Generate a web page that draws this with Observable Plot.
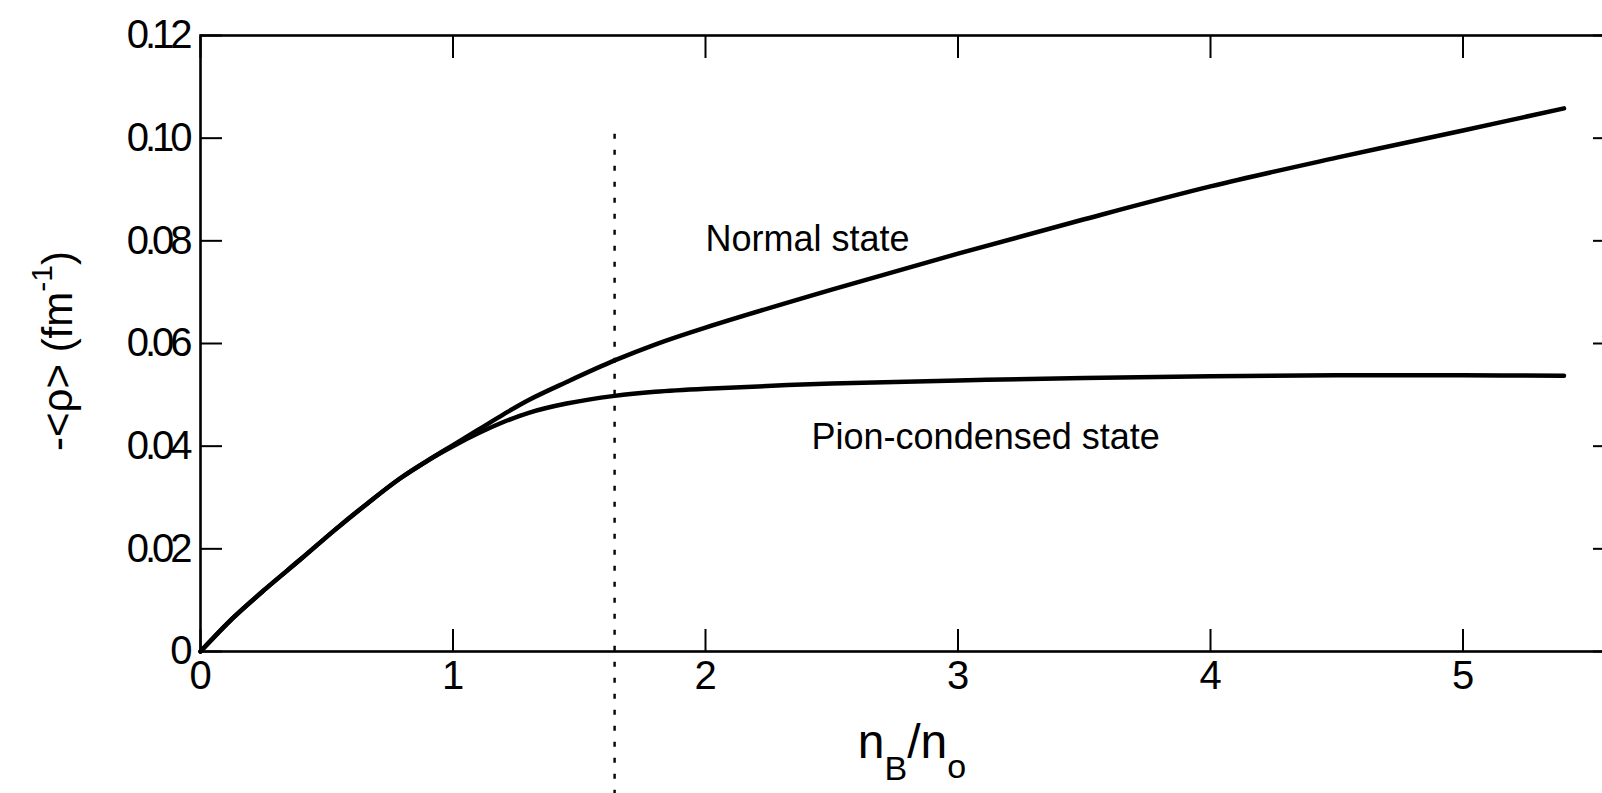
<!DOCTYPE html>
<html>
<head>
<meta charset="utf-8">
<script src="https://cdn.jsdelivr.net/npm/d3@7"></script>
<script src="https://cdn.jsdelivr.net/npm/@observablehq/plot@0.6"></script>
<style>
  html, body { margin: 0; padding: 0; background: #fff; overflow: hidden; }
  #chart svg { display: block; }
</style>
</head>
<body>
<div id="chart"></div>
<script>
// ---- data ----
const normalX = [0, 0.13, 0.26, 0.40, 0.53, 0.66, 0.79, 0.92, 1.00, 1.10, 1.20, 1.30, 1.45, 1.64, 1.80, 2.00, 2.50, 3.00, 3.50, 4.00, 4.50, 5.00, 5.40];
const normalY = [0, 0.0066, 0.0123, 0.0181, 0.0236, 0.0288, 0.0337, 0.0378, 0.0402, 0.0432, 0.0462, 0.0490, 0.0525, 0.0567, 0.0598, 0.0631, 0.0705, 0.0775, 0.0842, 0.0906, 0.0962, 0.1015, 0.1058];

const pionX = [0, 0.13, 0.26, 0.40, 0.53, 0.66, 0.79, 0.92, 1.00, 1.10, 1.20, 1.30, 1.45, 1.64, 1.80, 2.00, 2.50, 3.00, 3.50, 4.00, 4.50, 5.00, 5.40];
const pionY = [0, 0.0066, 0.0123, 0.0181, 0.0236, 0.0288, 0.0337, 0.0378, 0.0400, 0.0425, 0.0447, 0.0465, 0.0483, 0.0498, 0.0506, 0.0512, 0.0522, 0.0528, 0.0533, 0.0536, 0.0538, 0.0538, 0.0537];

const criticalX = [1.64];            // dashed vertical line
const criticalSpan = [-0.028, 0.101];

const xTicks = [0, 1, 2, 3, 4, 5];
const xTickLabels = ["0", "1", "2", "3", "4", "5"];
const yTicks = [0, 0.02, 0.04, 0.06, 0.08, 0.10, 0.12];
const yTickLabels = ["0", "0.02", "0.04", "0.06", "0.08", "0.10", "0.12"];

const annLabels = ["Normal state", "Pion-condensed state"];
const annX = [2.0, 2.42];
const annY = [0.0803, 0.0417];

const FONT = "'Liberation Sans', Arial, Helvetica, sans-serif";

const chart = Plot.plot({
  width: 1602,
  height: 793,
  marginLeft: 200,
  marginTop: 35,
  marginBottom: 142,
  marginRight: -12,
  style: { fontFamily: FONT, fontSize: "40px", color: "#000", background: "#fff", overflow: "hidden" },
  x: { domain: [0, 5.6] },
  y: { domain: [0, 0.12] },
  marks: [
    Plot.frame({ stroke: "#000", strokeWidth: 2.6 }),
    // inward ticks on all four sides
    Plot.axisX({ anchor: "bottom", ticks: xTicks, tickSize: -22, tickPadding: 31, strokeWidth: 2,
                 tickFormat: d => xTickLabels[xTicks.indexOf(d)], label: null, fontSize: 40 }),
    Plot.axisX({ anchor: "top", ticks: xTicks, tickSize: -22, strokeWidth: 2, fill: "none", label: null }),
    Plot.axisY({ anchor: "left", ticks: yTicks, tickSize: -22, tickPadding: 34, strokeWidth: 2,
                 tickFormat: d => yTickLabels[yTicks.findIndex(t => Math.abs(t - d) < 1e-9)], label: null,
                 fontSize: 40 }),
    Plot.axisY({ anchor: "right", ticks: yTicks, tickSize: -22, strokeWidth: 2, fill: "none", label: null }),
    Plot.ruleX(criticalX, { y1: criticalSpan[0], y2: criticalSpan[1], stroke: "#000", strokeWidth: 2.4, strokeDasharray: "5,11" }),
    Plot.line(normalX, { x: normalX, y: normalY, curve: "catmull-rom", stroke: "#000", strokeWidth: 4.5 }),
    Plot.line(pionX, { x: pionX, y: pionY, curve: "catmull-rom", stroke: "#000", strokeWidth: 4.5 }),
    Plot.text(annLabels, { x: (d, i) => annX[i], y: (d, i) => annY[i], text: d => d, textAnchor: "start",
                           lineAnchor: "middle", fontSize: 36, fill: "#000" })
  ]
});

document.getElementById("chart").appendChild(chart);

const svg = d3.select(chart.tagName.toLowerCase() === "svg" ? chart : chart.querySelector("svg"));

// tighter digit spacing on the y tick labels, like the hand lettering
svg.selectAll('g[aria-label="y-axis tick label"] text').attr("letter-spacing", "-4px");

// axis titles with sub/superscripts
const yt = svg.append("text")
  .attr("transform", "translate(72,351) rotate(-90)")
  .attr("text-anchor", "middle")
  .attr("font-family", FONT)
  .attr("font-size", 42)
  .attr("fill", "#000");
yt.append("tspan").text("-<ρ> (fm");
yt.append("tspan").attr("font-size", 30).attr("dy", -20).text("-1");
yt.append("tspan").attr("dy", 20).text(")");

const xt = svg.append("text")
  .attr("x", 912)
  .attr("y", 758)
  .attr("text-anchor", "middle")
  .attr("font-family", FONT)
  .attr("font-size", 48)
  .attr("fill", "#000");
xt.append("tspan").text("n");
xt.append("tspan").attr("font-size", 34).attr("dy", 22).text("B");
xt.append("tspan").attr("dy", -22).text("/n");
xt.append("tspan").attr("font-size", 34).attr("dy", 20).text("o");
</script>
</body>
</html>
